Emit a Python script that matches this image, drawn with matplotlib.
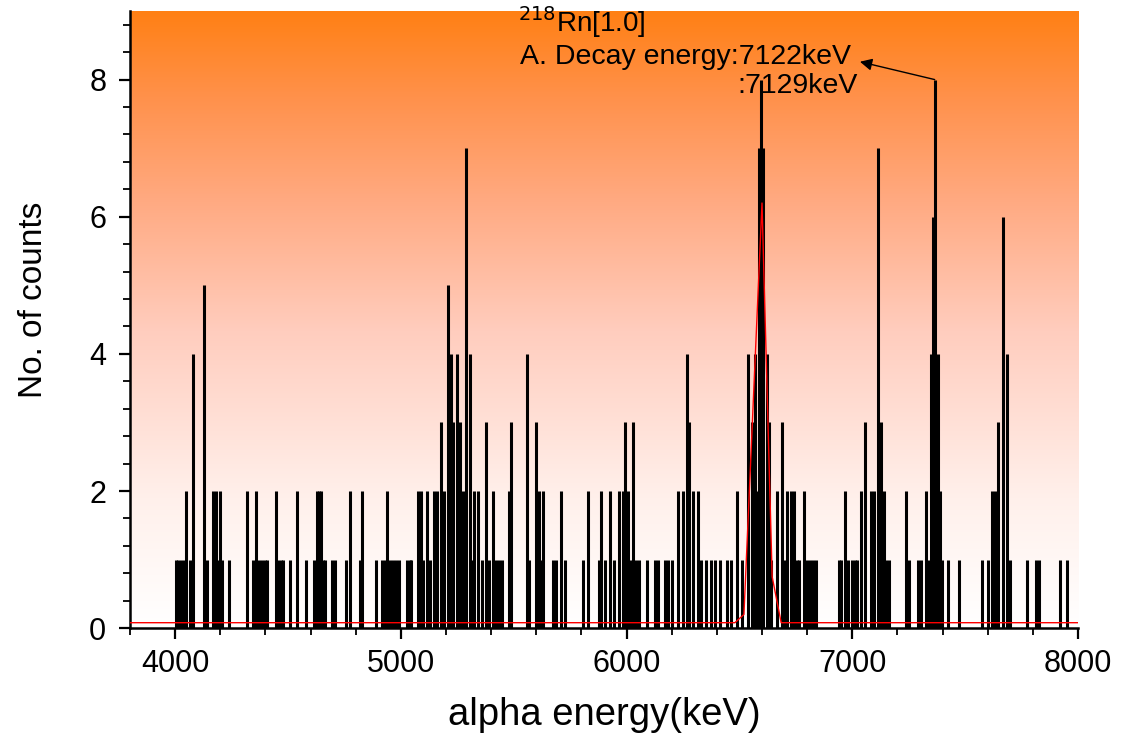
import numpy as np
import matplotlib
matplotlib.use("Agg")
import matplotlib.pyplot as plt
from matplotlib.colors import LinearSegmentedColormap
from matplotlib.ticker import MultipleLocator

plt.rcParams['font.family'] = ['Liberation Sans', 'DejaVu Sans']

# spectrum: bin energy (keV) and counts
energy = [4003, 4015, 4027, 4038, 4049, 4066, 4078, 4128, 4140, 4167, 4182, 4190, 4199,
          4210, 4238, 4319, 4347, 4359, 4371, 4387, 4399, 4409, 4447, 4458, 4470, 4480,
          4509, 4539, 4579, 4616, 4627, 4638, 4645, 4655, 4664, 4697, 4710, 4759, 4777,
          4817, 4826, 4889, 4917, 4929, 4938, 4952, 4967, 4979, 4991, 5029, 5040, 5046,
          5075, 5090, 5100, 5118, 5131, 5147, 5162, 5177, 5193, 5208, 5221, 5231, 5248,
          5262, 5275, 5289, 5307, 5318, 5325, 5340, 5360, 5378, 5390, 5407, 5420, 5435,
          5450, 5477, 5488, 5558, 5570, 5598, 5610, 5620, 5629, 5676, 5688, 5708, 5726,
          5807, 5827, 5877, 5887, 5905, 5925, 5946, 5967, 5985, 5995, 6008, 6018, 6029,
          6040, 6055, 6092, 6126, 6140, 6171, 6185, 6200, 6227, 6252, 6267, 6278, 6296,
          6318, 6331, 6353, 6372, 6393, 6416, 6446, 6464, 6490, 6511, 6537, 6554, 6569,
          6577, 6588, 6597, 6606, 6621, 6630, 6640, 6668, 6687, 6700, 6710, 6727, 6743,
          6757, 6766, 6786, 6798, 6812, 6826, 6840, 6941, 6949, 6966, 6983, 6998, 7012,
          7023, 7037, 7055, 7083, 7098, 7116, 7128, 7140, 7150, 7164, 7237, 7252, 7290,
          7305, 7325, 7335, 7347, 7359, 7366, 7378, 7390, 7397, 7423, 7473, 7575, 7600,
          7618, 7632, 7647, 7666, 7687, 7700, 7773, 7813, 7825, 7921, 7951]
counts = [1, 1, 1, 1, 2, 1, 4, 5, 1, 2, 2, 1, 2,
          1, 1, 2, 1, 2, 1, 1, 1, 1, 2, 1, 1, 1,
          1, 2, 1, 1, 2, 2, 2, 1, 1, 1, 1, 1, 2,
          1, 2, 1, 1, 1, 2, 1, 1, 1, 1, 1, 1, 1,
          2, 2, 1, 2, 1, 2, 2, 3, 2, 5, 4, 3, 4,
          3, 2, 7, 4, 1, 2, 2, 1, 3, 1, 2, 1, 1,
          1, 2, 3, 4, 1, 3, 2, 1, 2, 1, 1, 2, 1,
          1, 2, 1, 2, 1, 2, 1, 2, 2, 3, 2, 1, 3,
          1, 1, 1, 1, 1, 1, 1, 1, 2, 2, 4, 3, 2,
          2, 1, 1, 1, 1, 1, 1, 1, 2, 1, 4, 3, 4,
          2, 7, 8, 7, 4, 3, 1, 2, 3, 1, 2, 2, 2,
          1, 1, 2, 1, 1, 1, 1, 1, 1, 2, 1, 1, 1,
          1, 2, 3, 2, 2, 7, 3, 2, 1, 1, 2, 1, 1,
          1, 2, 1, 4, 6, 8, 4, 2, 1, 1, 1, 1, 1,
          2, 2, 3, 6, 4, 1, 1, 1, 1, 1, 1]

# gaussian fit of the 218Rn line (red)
fit_x = [3800, 6480, 6520, 6600, 6645, 6685, 8000]
fit_y = [0.08, 0.08, 0.2, 6.2, 0.75, 0.08, 0.08]

fig = plt.figure(figsize=(11.3, 7.33), dpi=100)
ax = fig.add_axes([0.115, 0.143, 0.839, 0.842])

# orange -> white background
bg = LinearSegmentedColormap.from_list('bg', [
    (0.0, (1, 1, 1)),
    (0.21, (1, 240/255, 235/255)),
    (0.48, (1, 205/255, 190/255)),
    (0.69, (1, 170/255, 130/255)),
    (0.86, (1, 145/255, 75/255)),
    (1.0, (1, 128/255, 20/255))])
grad = np.linspace(0, 1, 256).reshape(-1, 1)
ax.imshow(grad, extent=[0, 1, 0, 1], transform=ax.transAxes, cmap=bg,
          origin='lower', aspect='auto', zorder=0)

ax.vlines(energy, 0, counts, colors='black', linewidth=2.2, zorder=2)
ax.plot(fit_x, fit_y, color='red', linewidth=1.0, zorder=3)

ax.set_xlim(3800, 8000)
ax.set_ylim(0, 9)
ax.xaxis.set_major_locator(MultipleLocator(1000))
ax.xaxis.set_minor_locator(MultipleLocator(200))
ax.yaxis.set_major_locator(MultipleLocator(2))
ax.yaxis.set_minor_locator(MultipleLocator(0.4))
ax.tick_params(which='major', length=8, width=1.6, labelsize=22, direction='out')
ax.tick_params(which='minor', length=5, width=1.3, direction='out')
ax.tick_params(axis='x', pad=7)
ax.tick_params(axis='y', pad=9)

for s in ['top', 'right']:
    ax.spines[s].set_visible(False)
for s in ['left', 'bottom']:
    ax.spines[s].set_linewidth(1.8)

ax.set_xlabel('alpha energy(keV)', fontsize=27.5, labelpad=13)
ax.set_ylabel('No. of counts', fontsize=24, labelpad=29)
ax.yaxis.label.set_y(0.532)

ax.text(5519, 8.7, r'$^{218}$Rn[1.0]', fontsize=20)
ax.text(5528, 8.22, 'A. Decay energy:7122keV', fontsize=20.5)
ax.text(6490, 7.81, ':7129keV', fontsize=20.5)
ax.annotate('', xy=(7034, 8.26), xytext=(7365, 8.0),
            arrowprops=dict(arrowstyle='-|>', color='black', lw=1.0,
                            mutation_scale=18, shrinkA=0, shrinkB=0))

fig.savefig('out.png', dpi=100)
